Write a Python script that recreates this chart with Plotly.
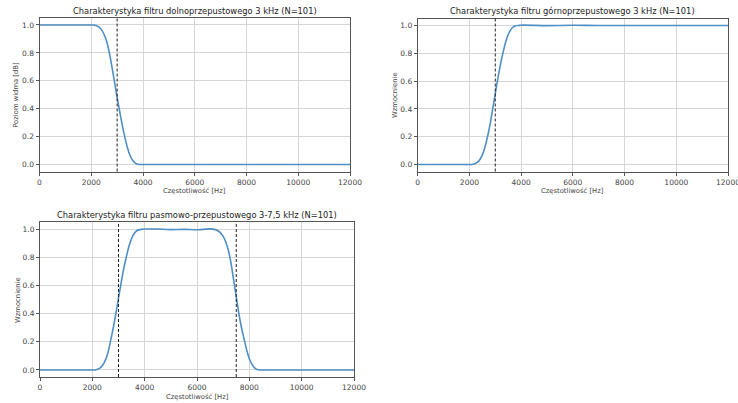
import plotly.graph_objects as go

# --- data ---
freq_lp = [0, 500, 1000, 1500, 2000, 2100, 2200, 2300, 2400, 2500, 2600, 2700, 2800, 2900,
           3000, 3100, 3200, 3300, 3400, 3500, 3600, 3700, 3800, 3900, 4000, 5000, 6000,
           7000, 8000, 9000, 10000, 11000, 12000]
gain_lp = [1.0, 1.0, 1.0, 1.0, 1.0, 1.0, 0.995, 0.985, 0.965, 0.93, 0.88, 0.8, 0.7, 0.59,
           0.48, 0.38, 0.28, 0.195, 0.12, 0.065, 0.03, 0.01, 0.002, 0.0, 0.0, 0.0, 0.0,
           0.0, 0.0, 0.0, 0.0, 0.0, 0.0]

freq_hp = [0, 500, 1000, 1500, 2000, 2100, 2200, 2300, 2400, 2500, 2600, 2700, 2800, 2900,
           3000, 3100, 3200, 3300, 3400, 3500, 3600, 3700, 3800, 3900, 4000, 5000, 6000,
           7000, 8000, 9000, 10000, 11000, 12000]
gain_hp = [0.0, 0.0, 0.0, 0.0, 0.0, 0.0, 0.005, 0.015, 0.035, 0.07, 0.125, 0.2, 0.29, 0.4,
           0.51, 0.62, 0.72, 0.805, 0.88, 0.935, 0.97, 0.99, 0.998, 1.0, 1.002, 0.999, 1.001,
           1.0, 1.0, 1.0, 1.0, 1.0, 1.0]

freq_bp = [0, 500, 1000, 1500, 2000, 2100, 2200, 2300, 2400, 2500, 2600, 2700, 2800, 2900,
           3000, 3100, 3200, 3300, 3400, 3500, 3600, 3700, 3800, 3900, 4000, 4500, 5000,
           5500, 6000, 6500, 6700, 6800, 6900, 7000, 7100, 7200, 7300, 7400, 7500, 7600,
           7700, 7800, 7900, 8000, 8100, 8200, 8300, 8400, 9000, 10000, 11000, 12000]
gain_bp = [0.0, 0.0, 0.0, 0.0, 0.0, 0.0, 0.005, 0.015, 0.035, 0.07, 0.125, 0.21, 0.3, 0.4,
           0.51, 0.62, 0.72, 0.805, 0.88, 0.935, 0.97, 0.99, 0.998, 1.0, 1.002, 1.002, 0.998,
           1.0, 0.997, 1.003, 0.998, 0.99, 0.975, 0.95, 0.91, 0.85, 0.76, 0.64, 0.52, 0.4,
           0.3, 0.22, 0.14, 0.08, 0.04, 0.015, 0.003, 0.0, 0.0, 0.0, 0.0, 0.0]

cutoffs_lp = [3000]
cutoffs_hp = [3000]
cutoffs_bp = [3000, 7500]

titles = ["Charakterystyka filtru dolnoprzepustowego 3 kHz (N=101)",
          "Charakterystyka filtru górnoprzepustowego 3 kHz (N=101)",
          "Charakterystyka filtru pasmowo-przepustowego 3-7,5 kHz (N=101)"]
ytitles = ["Poziom widma [dB]", "Wzmocnienie", "Wzmocnienie"]
xtitle = "Częstotliwość [Hz]"
xticks = [0, 2000, 4000, 6000, 8000, 10000, 12000]
yticks = [0.0, 0.2, 0.4, 0.6, 0.8, 1.0]
yticklabels = ["0.0", "0.2", "0.4", "0.6", "0.8", "1.0"]

W, H = 738, 403
FONT = "DejaVu Sans"
LINE = "#4f8fc6"
TXT = "#444444"

# panel boxes in pixels: (left, right, top, bottom), y-title x, x-title y
boxes = [(39.5, 350, 18, 171.5), (417.7, 728, 18.5, 171.5), (40, 354, 222.3, 377)]
ytitle_x = [16, 395, 17.3]
xtitle_y = [190.5, 190.5, 396.5]
title_y = [11.5, 11.5, 215]

fig = go.Figure()
series = [(freq_lp, gain_lp, cutoffs_lp), (freq_hp, gain_hp, cutoffs_hp), (freq_bp, gain_bp, cutoffs_bp)]

for i, ((fx, gy, cuts), (l, r, t, b)) in enumerate(zip(series, boxes)):
    n = "" if i == 0 else str(i + 1)
    fig.add_trace(go.Scatter(x=fx, y=gy, mode="lines", xaxis="x" + n, yaxis="y" + n,
                             line=dict(color=LINE, width=1.6, shape="spline", smoothing=0.6),
                             showlegend=False, hoverinfo="skip"))
    axcommon = dict(showline=True, linecolor="#555555", linewidth=1, mirror=True,
                    ticks="outside", ticklen=3, tickcolor="#555555", tickwidth=1,
                    showgrid=True, gridcolor="#d6d6d6", gridwidth=1, zeroline=False,
                    automargin=False, ticklabeloverflow="allow",
                    tickfont=dict(family=FONT, size=7.5, color=TXT))
    fig.layout["xaxis" + n] = dict(
        domain=[l / W, r / W], anchor="y" + n, range=[0, 12000],
        tickmode="array", tickvals=xticks, ticktext=[str(v) for v in xticks],
        **axcommon)
    fig.layout["yaxis" + n] = dict(
        domain=[1 - b / H, 1 - t / H], anchor="x" + n, range=[-0.05, 1.05],
        tickmode="array", tickvals=yticks, ticktext=yticklabels,
        **axcommon)
    for c in cuts:
        fig.add_shape(type="line", xref="x" + n, yref="y" + n + " domain", x0=c, x1=c, y0=0, y1=1,
                      line=dict(color="#222222", width=1, dash="3px,2px"))
    fig.add_annotation(text=titles[i], xref="paper", yref="paper",
                       x=(l + r) / 2 / W, y=1 - title_y[i] / H, xanchor="center", yanchor="middle",
                       showarrow=False, font=dict(family=FONT, size=8.3, color="#222222"))
    fig.add_annotation(text=xtitle, xref="paper", yref="paper",
                       x=(l + r) / 2 / W, y=1 - xtitle_y[i] / H, xanchor="center", yanchor="middle",
                       showarrow=False, font=dict(family=FONT, size=6.8, color=TXT))
    fig.add_annotation(text=ytitles[i], xref="paper", yref="paper", textangle=-90,
                       x=ytitle_x[i] / W, y=1 - (t + b) / 2 / H, xanchor="center", yanchor="middle",
                       showarrow=False, font=dict(family=FONT, size=6.8, color=TXT))

fig.update_layout(width=W, height=H, margin=dict(l=0, r=0, t=0, b=0),
                  paper_bgcolor="white", plot_bgcolor="white")
fig.write_html("out.html", config={"displayModeBar": False},
               post_script="document.body.style.margin='0';document.body.style.overflow='hidden';")
